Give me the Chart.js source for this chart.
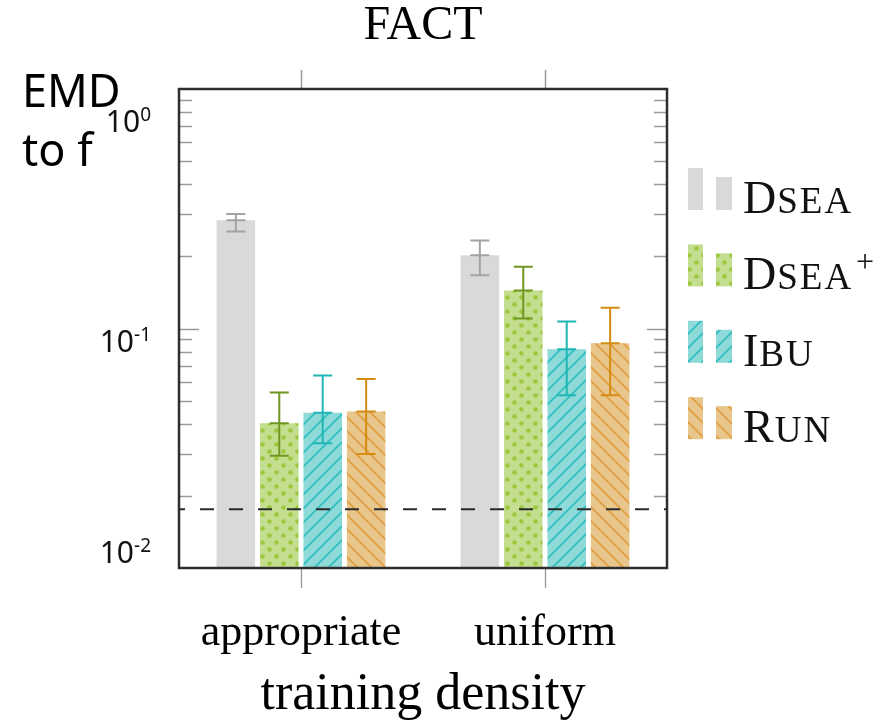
<!DOCTYPE html>
<html>
<head>
<meta charset="utf-8">
<script src="https://cdn.jsdelivr.net/npm/chart.js@4"></script>
<style>
  html, body { margin: 0; padding: 0; background: #fff; }
</style>
</head>
<body>
<canvas id="chart" width="891" height="724"></canvas>
<script>
const categories = ["appropriate", "uniform"];
const methods = ["Dsea", "Dsea+", "Ibu", "Run"];

// EMD to f, bar value and error range per category
const dseaMean = [0.283, 0.202];
const dseaLow = [0.254, 0.167];
const dseaHigh = [0.301, 0.233];

const dseaPlusMean = [0.0402, 0.144];
const dseaPlusLow = [0.0294, 0.110];
const dseaPlusHigh = [0.054, 0.181];

const ibuMean = [0.0445, 0.082];
const ibuLow = [0.0332, 0.0527];
const ibuHigh = [0.0637, 0.107];

const runMean = [0.045, 0.0868];
const runLow = [0.0299, 0.0526];
const runHigh = [0.0615, 0.122];

const referenceLevel = 0.0176;

const yTickValues = [0.01, 0.02, 0.03, 0.04, 0.05, 0.06, 0.07, 0.08, 0.09,
  0.1, 0.2, 0.3, 0.4, 0.5, 0.6, 0.7, 0.8, 0.9, 1];
const yMajorValues = [1, 0.1, 0.01];
const yMajorExponents = ["0", "-1", "-2"];

const serif = "'Liberation Serif', 'DejaVu Serif', serif";
const sans = "'Noto Sans', 'Open Sans', sans-serif";

const el = document.getElementById("chart");
const ctx = el.getContext("2d");

function makePattern(bg, draw) {
  const c = document.createElement("canvas");
  c.width = 14;
  c.height = 14;
  const g = c.getContext("2d");
  g.fillStyle = bg;
  g.fillRect(0, 0, 14, 14);
  draw(g);
  return ctx.createPattern(c, "repeat");
}

const dots = makePattern("#c3de8e", (g) => {
  g.fillStyle = "#9cc83f";
  for (const [x, y] of [[3.5, 3.5], [10.5, 10.5]]) {
    g.beginPath();
    g.arc(x, y, 2.3, 0, Math.PI * 2);
    g.fill();
  }
});

const slash = makePattern("#8edad9", (g) => {
  g.strokeStyle = "#33bfbf";
  g.lineWidth = 1.9;
  g.beginPath();
  g.moveTo(-1, 15); g.lineTo(15, -1);
  g.moveTo(-1, 1); g.lineTo(1, -1);
  g.moveTo(13, 15); g.lineTo(15, 13);
  g.stroke();
});

const backslash = makePattern("#e9c68c", (g) => {
  g.strokeStyle = "#dfa043";
  g.lineWidth = 1.9;
  g.beginPath();
  g.moveTo(-1, -1); g.lineTo(15, 15);
  g.moveTo(-1, 13); g.lineTo(1, 15);
  g.moveTo(13, -1); g.lineTo(15, 1);
  g.stroke();
});

const series = [
  { label: methods[0], mean: dseaMean, low: dseaLow, high: dseaHigh, fill: "#d9d9d9", err: "#a3a3a3" },
  { label: methods[1], mean: dseaPlusMean, low: dseaPlusLow, high: dseaPlusHigh, fill: dots, err: "#6e9620" },
  { label: methods[2], mean: ibuMean, low: ibuLow, high: ibuHigh, fill: slash, err: "#1fb6b6" },
  { label: methods[3], mean: runMean, low: runLow, high: runHigh, fill: backslash, err: "#d58c12" },
];

function drawSmallCaps(c, text, x, y) {
  // first letter full size, rest as small caps, "+" as superscript
  const plus = text.endsWith("+");
  const word = plus ? text.slice(0, -1) : text;
  c.textAlign = "left";
  c.textBaseline = "alphabetic";
  c.font = "46px " + serif;
  c.fillText(word[0], x, y);
  x += c.measureText(word[0]).width + 1;
  c.font = "37px " + serif;
  const rest = word.slice(1).toUpperCase();
  for (const ch of rest) {
    c.fillText(ch, x, y);
    x += c.measureText(ch).width + 2;
  }
  if (plus) {
    c.font = "32px " + serif;
    c.fillText("+", x + 3, y - 17);
  }
}

const decorations = {
  id: "decorations",
  afterDatasetsDraw(chart) {
    const c = chart.ctx;
    const area = chart.chartArea;
    const y = chart.scales.y;
    c.save();
    // error bars
    chart.data.datasets.forEach((ds, di) => {
      const meta = chart.getDatasetMeta(di);
      const s = series[di];
      meta.data.forEach((bar, i) => {
        const x = bar.x;
        const yLo = y.getPixelForValue(s.low[i]);
        const yHi = y.getPixelForValue(s.high[i]);
        const yMid = y.getPixelForValue(s.mean[i]);
        c.strokeStyle = s.err;
        c.lineWidth = 2;
        c.beginPath();
        c.moveTo(x, yLo);
        c.lineTo(x, yHi);
        for (const yy of [yLo, yMid, yHi]) {
          c.moveTo(x - 9.5, yy);
          c.lineTo(x + 9.5, yy);
        }
        c.stroke();
      });
    });
    // reference level
    const yr = y.getPixelForValue(referenceLevel);
    c.strokeStyle = "#2a2a2a";
    c.lineWidth = 2;
    c.setLineDash([14, 15]);
    c.lineDashOffset = 8;
    c.beginPath();
    c.moveTo(area.left, yr);
    c.lineTo(area.right, yr);
    c.stroke();
    c.restore();
  },
  afterDraw(chart) {
    const c = chart.ctx;
    const area = chart.chartArea;
    const y = chart.scales.y;
    const x = chart.scales.x;
    c.save();

    // inward ticks on the value axis, both sides
    c.strokeStyle = "#9a9a9a";
    c.lineWidth = 1.5;
    c.beginPath();
    for (const v of yTickValues) {
      if (v === 1 || v === 0.01) continue;
      const py = Math.round(y.getPixelForValue(v)) + 0.5;
      const len = v === 0.1 ? 20 : 13;
      c.moveTo(area.left, py);
      c.lineTo(area.left + len, py);
      c.moveTo(area.right, py);
      c.lineTo(area.right - len, py);
    }
    // category ticks on top
    categories.forEach((_, i) => {
      const px = Math.round(x.getPixelForValue(i)) + 0.5;
      c.moveTo(px, area.top);
      c.lineTo(px, area.top - 19);
    });
    c.stroke();

    // frame
    c.strokeStyle = "#2e2e2e";
    c.lineWidth = 2.5;
    c.strokeRect(area.left, area.top, area.right - area.left, area.bottom - area.top);

    // value labels
    const shifts = [43, 23, -5];
    c.fillStyle = "#111";
    c.textBaseline = "alphabetic";
    c.textAlign = "right";
    yMajorValues.forEach((v, i) => {
      const base = y.getPixelForValue(v) + shifts[i];
      const rightX = 151;
      c.font = "19px " + sans;
      const ew = c.measureText(yMajorExponents[i]).width;
      c.fillText(yMajorExponents[i], rightX, base - 11);
      c.font = "30px " + sans;
      c.fillText("10", rightX - ew, base);
    });

    // axis caption
    c.textAlign = "left";
    c.font = "45px " + sans;
    c.fillStyle = "#000";
    c.fillText("EMD", 22, 107);
    c.fillText("to f", 22, 166);

    // legend
    const lx = area.right + 21;
    series.forEach((s, i) => {
      const bottom = 210 + i * 76.4;
      c.fillStyle = s.fill;
      c.fillRect(lx, bottom - 42, 15, 42);
      c.fillRect(lx + 28, bottom - 33, 16, 33);
      c.fillStyle = "#111";
      drawSmallCaps(c, s.label, lx + 55, bottom + 3);
    });
    c.restore();
  },
};

function createChart() {
  return new Chart(ctx, {
    type: "bar",
    data: {
      labels: categories,
      datasets: series.map((s) => ({
        label: s.label,
        data: s.mean,
        backgroundColor: s.fill,
        borderWidth: 0,
        barPercentage: 0.887,
        categoryPercentage: 0.712,
      })),
    },
    options: {
      responsive: false,
      animation: false,
      devicePixelRatio: 1,
      layout: { padding: { left: 179, right: 224, top: 0, bottom: 0 } },
      plugins: {
        legend: { display: false },
        tooltip: { enabled: false },
        title: {
          display: true,
          text: "FACT",
          color: "#000",
          font: { family: serif, size: 48, weight: "normal", lineHeight: 1 },
          padding: { top: 2, bottom: 39 },
        },
      },
      scales: {
        x: {
          offset: true,
          grid: {
            offset: false,
            drawOnChartArea: false,
            tickLength: 20,
            tickColor: "#9a9a9a",
            tickWidth: 1.3,
          },
          border: { display: false },
          ticks: {
            color: "#000",
            padding: 19,
            font: { family: serif, size: 44 },
          },
          title: {
            display: true,
            text: "training density",
            color: "#000",
            font: { family: serif, size: 52, lineHeight: 1.1 },
            padding: { top: 0, bottom: 0 },
          },
          afterFit: (s) => { s.height = 156; },
        },
        y: {
          type: "logarithmic",
          display: false,
          min: 0.01,
          max: 1,
          afterBuildTicks: (s) => { s.ticks = yTickValues.map((v) => ({ value: v })); },
        },
      },
    },
    plugins: [decorations],
  });
}

createChart();
</script>
</body>
</html>
